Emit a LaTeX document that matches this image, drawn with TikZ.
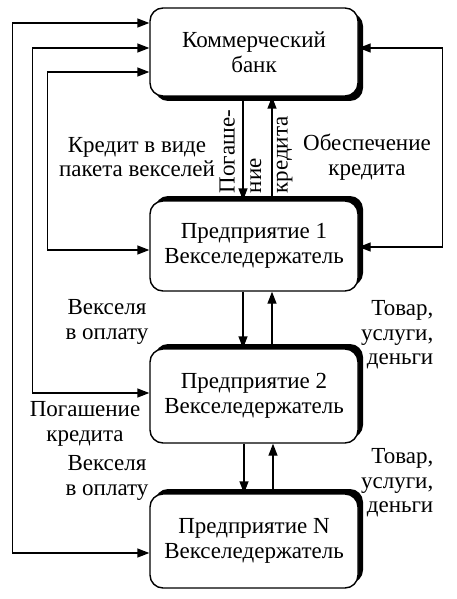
\documentclass[tikz,border=0pt]{standalone}
\usepackage{fontspec}
\setmainfont{Liberation Serif}
\usetikzlibrary{arrows.meta,shadows}
\begin{document}
\begin{tikzpicture}[>={Triangle[length=12pt,width=9pt]}, x=1pt, y=-1pt, line width=1.4pt,
  box/.style={draw, fill=white, rounded corners=13pt, minimum width=208pt, align=center,
    font=\fontsize{23}{25}\selectfont},
  lbl/.style={align=center, inner sep=0pt, font=\fontsize{23}{24.5}\selectfont},
  shdown/.style={general shadow={fill=black, shadow xshift=5pt, shadow yshift=-5pt}},
  shup/.style={general shadow={fill=black, shadow xshift=5pt, shadow yshift=5pt}}]
  \useasboundingbox (0,0) rectangle (456,599);
  % boxes
  \node[box, shdown, minimum height=88pt] (bank) at (254,52) {Коммерческий\\банк};
  \node[box, shup, minimum height=90pt] (e1) at (254,246) {Предприятие 1\\Векселедержатель};
  \node[box, shup, minimum height=94pt] (e2) at (254,396) {Предприятие 2\\Векселедержатель};
  \node[box, shup, minimum height=94pt] (en) at (254,541) {Предприятие N\\Векселедержатель};
  % labels
  \node[lbl] (kred) at (137,157) {Кредит в виде\\пакета векселей};
  \node[lbl] (obes) at (367,157) {Обеспечение\\кредита};
  \node[lbl, rotate=90, anchor=west, align=left, font=\fontsize{23}{26.5}\selectfont]
    (pog) at (256,194) {Погаше-\\ние\\кредита};
  \node[lbl] (veks1) at (107,322) {Векселя\\в оплату};
  \node[lbl, anchor=east, align=right] (tov1) at (434,335) {Товар,\\услуги,\\деньги};
  \node[lbl] (pogkr) at (85,424) {Погашение\\кредита};
  \node[lbl] (veks2) at (107,478) {Векселя\\в оплату};
  \node[lbl, anchor=east, align=right] (tov2) at (434,483) {Товар,\\услуги,\\деньги};
  % vertical flows
  \draw[->] ([xshift=-11pt]bank.south) -- ([xshift=-11pt]e1.north);
  \draw[<-] ([xshift=18pt]bank.south) -- ([xshift=18pt]e1.north);
  \draw[->] ([xshift=-11pt]e1.south) -- ([xshift=-11pt]e2.north);
  \draw[<-] ([xshift=18pt]e1.south) -- ([xshift=18pt]e2.north);
  \draw[->] ([xshift=-10pt]e2.south) -- ([xshift=-10pt]en.north);
  \draw[<-] ([xshift=19pt]e2.south) -- ([xshift=19pt]en.north);
  % loops round the left and right
  \draw[<->] ([yshift=29pt]bank.west) -- ++(-137,0) |- ([yshift=-12pt]en.west);
  \draw[<->] ([yshift=4pt]bank.west) -- ++(-117,0) |- ([yshift=3pt]e2.west);
  \draw[<->] ([yshift=-20pt]bank.west) -- ++(-102,0) |- ([yshift=-4pt]e1.west);
  \draw[<->] ([yshift=4pt]bank.east) -- ++(84,0) |- ([yshift=-1pt]e1.east);
\end{tikzpicture}
\end{document}
